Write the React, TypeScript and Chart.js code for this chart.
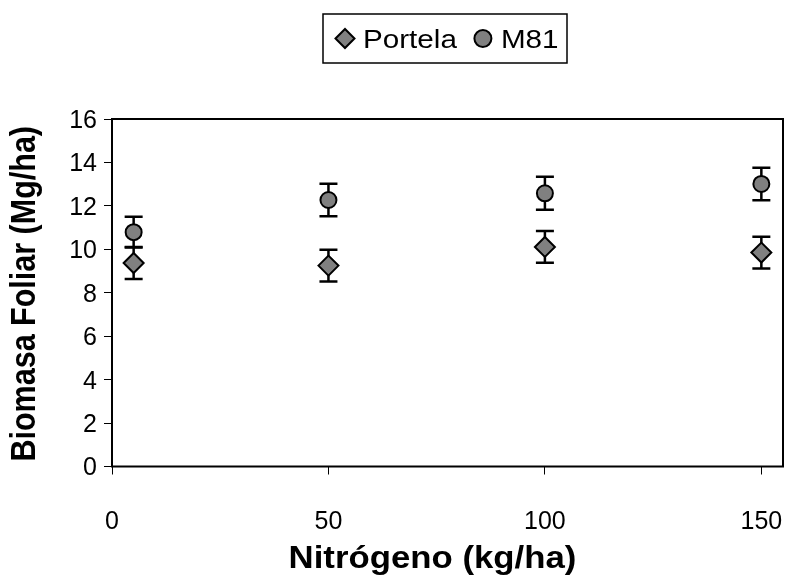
import React, { useEffect, useRef } from "react";
import { Chart, registerables } from "chart.js";

Chart.register(...registerables);

// ---- data ----
const nitrogen = [5, 50, 100, 150];
const portela = [9.37, 9.25, 10.11, 9.85];
const portelaErr = [0.74, 0.73, 0.73, 0.73];
const m81 = [10.79, 12.27, 12.58, 13.01];
const m81Err = [0.71, 0.75, 0.76, 0.75];
const xTicks = [0, 50, 100, 150];
const yTicks = [0, 2, 4, 6, 8, 10, 12, 14, 16];
const seriesNames = ["Portela", "M81"];
const xTitle = "Nitrógeno (kg/ha)";
const yTitle = "Biomasa Foliar (Mg/ha)";

const FONT = "'Liberation Sans', Arial, Helvetica, sans-serif";
const MARK_FILL = "#808080";
// the reference text is slightly wider than it is tall
const SX_TICK = 1.0;
const SX_TEXT = 1.14;
const TICK_SIZE = 25;

function stretchedText(
  ctx: CanvasRenderingContext2D,
  text: string,
  x: number,
  y: number,
  font: string,
  sx: number,
  align: CanvasTextAlign,
  rotate = 0
) {
  ctx.save();
  ctx.translate(x, y);
  ctx.scale(sx, 1);
  if (rotate) ctx.rotate(rotate);
  ctx.font = font;
  ctx.fillStyle = "#000";
  ctx.textAlign = align;
  ctx.textBaseline = "alphabetic";
  ctx.fillText(text, 0, 0);
  ctx.restore();
}

const errorBarPlugin = {
  id: "errorBars",
  beforeDatasetsDraw(chart: any) {
    const ctx = chart.ctx;
    const ys = chart.scales.y;
    chart.data.datasets.forEach((ds: any, i: number) => {
      const meta = chart.getDatasetMeta(i);
      meta.data.forEach((pt: any, j: number) => {
        const v = ds.data[j].y;
        const e = ds.errors[j];
        const top = ys.getPixelForValue(v + e);
        const bot = ys.getPixelForValue(v - e);
        const cap = 9;
        ctx.save();
        ctx.strokeStyle = "#000";
        ctx.lineWidth = 2.5;
        ctx.beginPath();
        ctx.moveTo(pt.x, top);
        ctx.lineTo(pt.x, bot);
        ctx.moveTo(pt.x - cap, top);
        ctx.lineTo(pt.x + cap, top);
        ctx.moveTo(pt.x - cap, bot);
        ctx.lineTo(pt.x + cap, bot);
        ctx.stroke();
        ctx.restore();
      });
    });
  },
};

const framePlugin = {
  id: "frame",
  beforeDatasetsDraw(chart: any) {
    const { ctx, chartArea: a } = chart;
    ctx.save();
    ctx.strokeStyle = "#000";
    ctx.lineWidth = 2;
    ctx.strokeRect(a.left, a.top, a.right - a.left, a.bottom - a.top);
    ctx.restore();
  },
};

const textPlugin = {
  id: "axisText",
  afterDraw(chart: any) {
    const ctx = chart.ctx;
    const xs = chart.scales.x;
    const ys = chart.scales.y;
    const a = chart.chartArea;
    const tickFont = `${TICK_SIZE}px ${FONT}`;
    ys.ticks.forEach((t: any) => {
      const py = ys.getPixelForValue(t.value);
      stretchedText(ctx, String(t.value), a.left - 15, py + 0.358 * TICK_SIZE, tickFont, SX_TICK, "right");
    });
    xs.ticks.forEach((t: any) => {
      const px = xs.getPixelForValue(t.value);
      stretchedText(ctx, String(t.value), px, 529, tickFont, SX_TICK, "center");
    });
    const titleFont = `bold 30.5px ${FONT}`;
    stretchedText(ctx, xTitle, (a.left + a.right) / 2 - 15, 568, titleFont, SX_TEXT, "center");
    stretchedText(ctx, yTitle, 35, (a.top + a.bottom) / 2 + 1, titleFont, SX_TEXT, "center", -Math.PI / 2);
  },
};

const legendPlugin = {
  id: "boxLegend",
  afterDraw(chart: any) {
    const ctx = chart.ctx;
    const fontSize = 26;
    const font = `${fontSize}px ${FONT}`;
    ctx.save();
    ctx.font = font;
    const boxL = 323, boxR = 567, boxT = 14, boxB = 63;
    const cy = (boxT + boxB) / 2;
    ctx.strokeStyle = "#000";
    ctx.lineWidth = 1.5;
    ctx.strokeRect(boxL, boxT, boxR - boxL, boxB - boxT);
    let x = boxL + 12;
    chart.data.datasets.forEach((ds: any) => {
      const cx = x + 10;
      ctx.fillStyle = MARK_FILL;
      ctx.strokeStyle = "#000";
      ctx.lineWidth = 2;
      ctx.beginPath();
      if (ds.pointStyle === "rectRot") {
        const r = 9.5;
        ctx.moveTo(cx - r, cy);
        ctx.lineTo(cx, cy - r);
        ctx.lineTo(cx + r, cy);
        ctx.lineTo(cx, cy + r);
        ctx.closePath();
      } else {
        ctx.arc(cx, cy, 8.5, 0, Math.PI * 2);
      }
      ctx.fill();
      ctx.stroke();
      const tx = cx + 18;
      const w = ctx.measureText(ds.label).width * SX_TEXT;
      stretchedText(ctx, ds.label, tx, cy + 0.358 * fontSize, font, SX_TEXT, "left");
      x = tx + w + 16;
    });
    ctx.restore();
  },
};

export default function App() {
  const ref = useRef<HTMLCanvasElement | null>(null);
  useEffect(() => {
    if (!ref.current) return;
    const chart = new Chart(ref.current, {
      type: "scatter",
      data: {
        datasets: [
          {
            label: seriesNames[0],
            data: nitrogen.map((x, i) => ({ x, y: portela[i] })),
            errors: portelaErr,
            pointStyle: "rectRot",
            pointRadius: 10,
            pointBackgroundColor: MARK_FILL,
            pointBorderColor: "#000",
            pointBorderWidth: 2,
            showLine: false,
          } as any,
          {
            label: seriesNames[1],
            data: nitrogen.map((x, i) => ({ x, y: m81[i] })),
            errors: m81Err,
            pointStyle: "circle",
            pointRadius: 8,
            pointBackgroundColor: MARK_FILL,
            pointBorderColor: "#000",
            pointBorderWidth: 2,
            showLine: false,
          } as any,
        ],
      },
      options: {
        animation: false,
        responsive: false,
        events: [],
        layout: { autoPadding: false, padding: { top: 119, right: 7, bottom: 0, left: 0 } },
        plugins: {
          legend: { display: false },
          tooltip: { enabled: false },
        },
        scales: {
          x: {
            type: "linear",
            min: 0,
            max: 155,
            afterBuildTicks: (s: any) => {
              s.ticks = xTicks.map((v) => ({ value: v }));
            },
            afterFit: (s: any) => {
              s.height = 110.5;
              s.paddingLeft = 0;
              s.paddingRight = 0;
            },
            border: { display: false },
            grid: { drawOnChartArea: false, drawTicks: true, tickLength: 8, color: "#000", lineWidth: 1 },
            ticks: { display: false },
            title: { display: false },
          },
          y: {
            type: "linear",
            min: 0,
            max: 16,
            afterBuildTicks: (s: any) => {
              s.ticks = yTicks.map((v) => ({ value: v }));
            },
            afterFit: (s: any) => {
              s.width = 112;
              s.paddingTop = 0;
              s.paddingBottom = 0;
            },
            border: { display: false },
            grid: { drawOnChartArea: false, drawTicks: true, tickLength: 8, color: "#000", lineWidth: 1 },
            ticks: { display: false },
            title: { display: false },
          },
        },
      },
      plugins: [framePlugin, errorBarPlugin, textPlugin, legendPlugin],
    } as any);
    return () => chart.destroy();
  }, []);
  return (
    <div style={{ position: "fixed", left: 0, top: 0, width: 790, height: 577, background: "#fff" }}>
      <canvas ref={ref} width={790} height={577} style={{ display: "block" }} />
    </div>
  );
}
